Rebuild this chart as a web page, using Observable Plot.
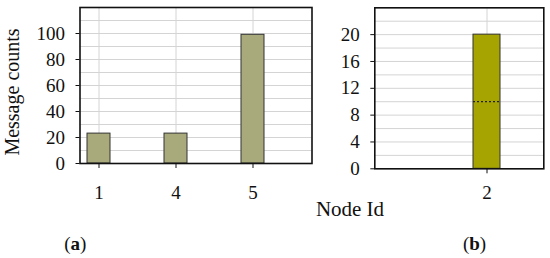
<!DOCTYPE html>
<html>
<head>
<meta charset="utf-8">
<script src="https://cdn.jsdelivr.net/npm/d3@7"></script>
<script src="https://cdn.jsdelivr.net/npm/@observablehq/plot@0.6"></script>
<style>
  html, body { margin: 0; padding: 0; background: #fff; }
  #wrap { position: relative; width: 550px; height: 258px; overflow: hidden; background: #fff;
          font-family: 'Liberation Serif', 'Times New Roman', Times, serif; color: #111; }
  .abs { position: absolute; white-space: nowrap; line-height: 1; transform: translate(-50%, -50%); }
  #wrap svg { position: absolute; top: 0; }
  #wrap svg text { font-family: 'Liberation Serif', 'Times New Roman', Times, serif; }
</style>
</head>
<body>
<div id="wrap"></div>
<script>
// Panel (a)
const nodesA = ["1", "4", "5"];
const countsA = [23, 23, 99];
const yTicksA = [0, 20, 40, 60, 80, 100];
const yGridA = [0, 10, 20, 30, 40, 50, 60, 70, 80, 90, 100, 110, 120];

// Panel (b)
const nodesB = ["2"];
const countsB = [20];
const dottedB = [10];
const yTicksB = [0, 4, 8, 12, 16, 20];
const yGridB = [0, 2, 4, 6, 8, 10, 12, 14, 16, 18, 20, 22, 24];

const dataA = nodesA.map((n, i) => ({node: n, count: countsA[i]}));
const dataB = nodesB.map((n, i) => ({node: n, count: countsB[i]}));
const dotB = nodesB.map((n, i) => ({node: n, v: dottedB[i]}));

const gridColor = "#d4d4d4";
const style = {fontFamily: "'Liberation Serif', 'Times New Roman', Times, serif", fontSize: "19px", color: "#111", background: "transparent"};

const plotA = Plot.plot({
  width: 320, height: 215,
  marginLeft: 79.5, marginRight: 8.5, marginTop: 7, marginBottom: 52,
  style,
  x: {type: "band", domain: nodesA, range: [60.5, 291.5], paddingInner: 0.7, paddingOuter: 0.35},
  y: {domain: [0, 120]},
  marks: [
    Plot.gridY(yGridA, {stroke: gridColor, strokeOpacity: 1}),
    Plot.gridX(nodesA, {stroke: gridColor, strokeOpacity: 1}),
    Plot.barY(dataA, {x: "node", y: "count", fill: "#a9aa7c", stroke: "#333", strokeWidth: 1}),
    Plot.frame({stroke: "#111", strokeWidth: 1.6}),
    Plot.axisY(yTicksA, {tickSize: 4, tickPadding: 11, label: null, stroke: "#111"}),
    Plot.axisX({tickSize: 5, tickPadding: 17, label: null, stroke: "#111"})
  ]
});
plotA.style.left = "0px";

const plotB = Plot.plot({
  width: 250, height: 215,
  marginLeft: 74.3, marginRight: 6.7, marginTop: 7.3, marginBottom: 46.7,
  style,
  x: {type: "band", domain: nodesB, range: [136, 236], paddingInner: 0.73, paddingOuter: 0.365},
  y: {domain: [0, 24]},
  marks: [
    Plot.gridY(yGridB, {stroke: gridColor, strokeOpacity: 1}),
    Plot.gridX(nodesB, {stroke: gridColor, strokeOpacity: 1}),
    Plot.barY(dataB, {x: "node", y: "count", fill: "#a6a400", stroke: "#333", strokeWidth: 1}),
    Plot.tickY(dotB, {x: "node", y: "v", stroke: "#222", strokeWidth: 1.2, strokeDasharray: "2,2"}),
    Plot.frame({stroke: "#111", strokeWidth: 1.6}),
    Plot.axisY(yTicksB, {tickSize: 4, tickPadding: 11, label: null, stroke: "#111"}),
    Plot.axisX({tickSize: 5, tickPadding: 12, label: null, stroke: "#111"})
  ]
});
plotB.style.left = "300px";

const wrap = document.getElementById("wrap");
wrap.appendChild(plotA);
wrap.appendChild(plotB);

function label(html, x, y, size, extra) {
  const d = document.createElement("div");
  d.className = "abs";
  d.innerHTML = html;
  d.style.left = x + "px";
  d.style.top = y + "px";
  d.style.fontSize = size + "px";
  if (extra) d.style.transform = extra;
  wrap.appendChild(d);
}
label("Message counts", 12, 92, 20, "translate(-50%, -50%) rotate(-90deg)");
label("Node Id", 350, 209, 21);
label("(<b>a</b>)", 75.3, 243, 19);
label("(<b>b</b>)", 474.5, 243, 19);
</script>
</body>
</html>
